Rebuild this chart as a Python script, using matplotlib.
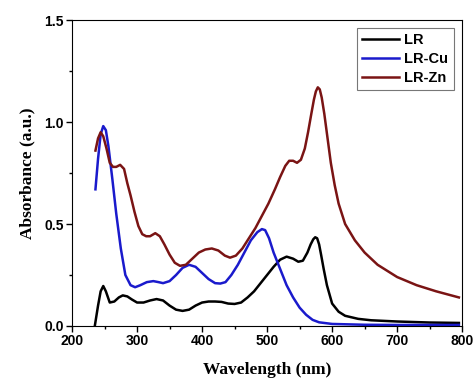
import matplotlib
matplotlib.use("Agg")
import matplotlib.pyplot as plt
from matplotlib.ticker import MultipleLocator

# UV-Vis spectra
lr_wl = [235, 240, 244, 248, 252, 258, 265, 272, 278, 285, 292, 300, 310, 320, 330,
         340, 350, 360, 370, 380, 390, 400, 410, 420, 430, 440, 450, 460, 470, 480,
         490, 500, 510, 520, 530, 540, 548, 555, 562, 567, 571, 574, 577, 580, 583,
         587, 592, 600, 610, 620, 640, 660, 700, 750, 795]
lr_abs = [0.0, 0.10, 0.17, 0.196, 0.17, 0.115, 0.12, 0.14, 0.15, 0.145, 0.13, 0.115,
          0.115, 0.125, 0.132, 0.125, 0.10, 0.08, 0.074, 0.08, 0.10, 0.115, 0.12, 0.12,
          0.118, 0.11, 0.108, 0.115, 0.14, 0.17, 0.21, 0.25, 0.29, 0.325, 0.34, 0.33,
          0.315, 0.32, 0.36, 0.40, 0.425, 0.435, 0.43, 0.40, 0.35, 0.28, 0.20, 0.11,
          0.07, 0.05, 0.035, 0.028, 0.022, 0.017, 0.015]

cu_wl = [236, 240, 244, 248, 252, 256, 262, 268, 275, 282, 290, 297, 305, 315, 325,
         333, 340, 350, 360, 370, 380, 390, 400, 410, 420, 428, 436, 445, 455, 465,
         475, 485, 492, 497, 503, 510, 520, 530, 540, 550, 560, 570, 580, 600, 650,
         700, 795]
cu_abs = [0.67, 0.82, 0.94, 0.98, 0.96, 0.88, 0.72, 0.55, 0.38, 0.25, 0.20, 0.19,
          0.20, 0.215, 0.22, 0.215, 0.21, 0.22, 0.25, 0.285, 0.30, 0.29, 0.26, 0.23,
          0.21, 0.208, 0.215, 0.25, 0.30, 0.36, 0.42, 0.46, 0.475, 0.47, 0.43, 0.36,
          0.28, 0.20, 0.14, 0.09, 0.055, 0.03, 0.018, 0.01, 0.006, 0.005, 0.005]

zn_wl = [236, 240, 244, 248, 253, 258, 263, 268, 274, 280, 285, 290, 296, 302, 308,
         314, 320, 328, 335, 342, 350, 358, 366, 375, 385, 395, 405, 415, 425, 435,
         443, 452, 462, 472, 482, 492, 502, 512, 520, 528, 534, 540, 546, 552, 558,
         563, 568, 572, 575, 578, 581, 584, 588, 593, 598, 604, 610, 620, 635, 650,
         670, 700, 730, 760, 795]
zn_abs = [0.86, 0.92, 0.95, 0.93, 0.87, 0.80, 0.78, 0.78, 0.79, 0.77, 0.70, 0.64,
          0.56, 0.49, 0.45, 0.44, 0.44, 0.455, 0.44, 0.40, 0.35, 0.31, 0.295, 0.30,
          0.33, 0.36, 0.375, 0.38, 0.37, 0.345, 0.335, 0.345, 0.38, 0.43, 0.48, 0.54,
          0.60, 0.67, 0.73, 0.785, 0.81, 0.81, 0.80, 0.815, 0.87, 0.95, 1.04, 1.11,
          1.15, 1.17, 1.16, 1.12, 1.04, 0.92, 0.80, 0.69, 0.60, 0.50, 0.42, 0.36,
          0.30, 0.24, 0.20, 0.17, 0.14]

fig = plt.figure(figsize=(4.74, 3.78), dpi=100)
ax = fig.add_axes([0.152, 0.1376, 0.823, 0.8094])

ax.plot(lr_wl, lr_abs, color="black", lw=1.8, label="LR")
ax.plot(cu_wl, cu_abs, color="#1a1acc", lw=1.8, label="LR-Cu")
ax.plot(zn_wl, zn_abs, color="#7a1414", lw=1.8, label="LR-Zn")

ax.set_xlim(200, 800)
ax.set_ylim(0, 1.5)
ax.xaxis.set_major_locator(MultipleLocator(100))
ax.xaxis.set_minor_locator(MultipleLocator(50))
ax.yaxis.set_major_locator(MultipleLocator(0.5))
ax.yaxis.set_minor_locator(MultipleLocator(0.25))
ax.tick_params(which="major", direction="out", length=4, width=1, pad=2)
ax.tick_params(which="minor", direction="out", length=2.5, width=1)

for lab in ax.get_xticklabels() + ax.get_yticklabels():
    lab.set_family("Liberation Sans")
    lab.set_fontweight("bold")
    lab.set_fontsize(10)

ax.set_xlabel("Wavelength (nm)", family="Liberation Serif", fontweight="bold",
              fontsize=12.5, labelpad=10)
ax.set_ylabel("Absorbance (a.u.)", family="Liberation Serif", fontweight="bold",
              fontsize=12.5, labelpad=6)

leg = ax.legend(loc="upper right", bbox_to_anchor=(0.978, 0.975), frameon=True,
                fancybox=False, edgecolor="#555555", handlelength=2.5,
                handletextpad=0.4, borderpad=0.35, borderaxespad=0.0,
                labelspacing=0.35,
                prop={"family": "Liberation Sans", "weight": "bold", "size": 10.5})
leg.get_frame().set_linewidth(0.8)

fig.savefig("out.png", dpi=100)
